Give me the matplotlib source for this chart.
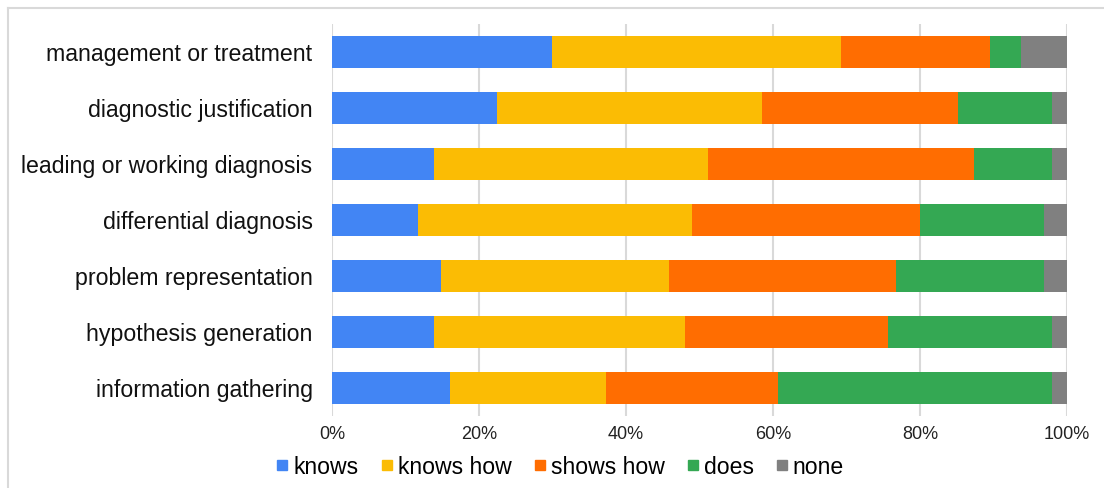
import numpy as np
import matplotlib
matplotlib.use("Agg")
import matplotlib.pyplot as plt
from matplotlib.lines import Line2D

plt.rcParams['font.family'] = ['Liberation Sans', 'DejaVu Sans']

categories = [
    "management or treatment",
    "diagnostic justification",
    "leading or working diagnosis",
    "differential diagnosis",
    "problem representation",
    "hypothesis generation",
    "information gathering",
]
series_names = ["knows", "knows how", "shows how", "does", "none"]
knows = [29.9, 22.4, 13.9, 11.7, 14.9, 13.9, 16.0]
knows_how = [39.4, 36.1, 37.2, 37.3, 30.9, 34.1, 21.3]
shows_how = [20.2, 26.7, 36.2, 31.0, 30.9, 27.6, 23.4]
does = [4.2, 12.8, 10.7, 16.9, 20.2, 22.4, 37.3]
none = [6.3, 2.0, 2.0, 3.1, 3.1, 2.0, 2.0]
colors = ["#4285F4", "#FBBC04", "#FF6D01", "#34A853", "#808080"]

values = np.array([knows, knows_how, shows_how, does, none])
values = values / values.sum(axis=0) * 100

fig = plt.figure(figsize=(11.04, 4.88), dpi=100)
ax = fig.add_axes([0.3007, 0.1475, 0.6658, 0.8033])

y = np.arange(len(categories))
left = np.zeros(len(categories))
for name, vals, c in zip(series_names, values, colors):
    ax.barh(y, vals, left=left, height=0.57, color=c, label=name, zorder=3)
    left += vals

ax.set_ylim(len(categories) - 0.5, -0.5)
ax.set_xlim(0, 100)
ax.set_yticks(y)
ax.set_yticklabels(categories, fontsize=16.7, color="#111111")
ax.set_xticks([0, 20, 40, 60, 80, 100])
ax.set_xticklabels([f"{v}%" for v in [0, 20, 40, 60, 80, 100]], fontsize=13, color="#222222")
ax.tick_params(axis="y", length=0, pad=14)
ax.tick_params(axis="x", length=0, pad=7)
ax.grid(axis="x", color="#d9d9d9", linewidth=1.5, zorder=0)
for s in ax.spines.values():
    s.set_visible(False)

handles = [Line2D([], [], marker="s", linestyle="none", markersize=7.3,
                  color=c) for c in colors]
fig.legend(handles, series_names, loc="center", bbox_to_anchor=(560 / 1104, 1 - 467 / 488),
           ncol=5, frameon=False, fontsize=16.6, handlelength=0.55,
           handletextpad=0.2, columnspacing=0.95, borderaxespad=0)

# light frame around the chart (only top and left visible)
fig.add_artist(Line2D([8 / 1104, 1.0], [1 - 8 / 488, 1 - 8 / 488],
                      transform=fig.transFigure, color="#d9d9d9", linewidth=1.5))
fig.add_artist(Line2D([8 / 1104, 8 / 1104], [0, 1 - 8 / 488],
                      transform=fig.transFigure, color="#d9d9d9", linewidth=1.5))

fig.savefig("out.png", dpi=100)
